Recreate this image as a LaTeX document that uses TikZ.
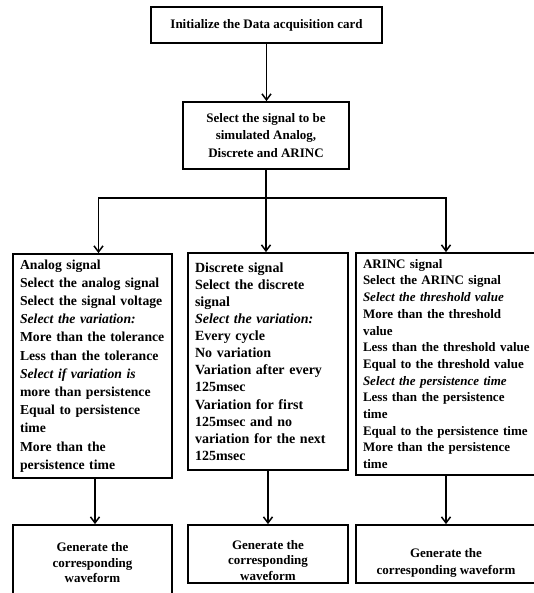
\documentclass[tikz,border=0pt]{standalone}
\usepackage{fontspec}
\setmainfont{Liberation Serif}
\usetikzlibrary{arrows.meta}

\newcommand{\drop}[1]{\rule{0pt}{#1}}

\begin{document}
\begin{tikzpicture}[x=1pt, y=-1pt,
        box/.style={draw, line width=1.8pt, inner sep=0pt, font=\fontsize{13}{17.3}\selectfont\bfseries},
        listbox/.style={box, align=left, inner xsep=7pt, inner ysep=3pt, text width=#1},
        genbox/.style={box, align=center, font=\fontsize{13}{15.5}\selectfont\bfseries},
        flow/.style={line width=1.8pt, -{Straight Barb[length=6pt, width=9pt, line width=1.5pt]}}]
            \useasboundingbox (0,0) rectangle (534,593);

            \node[box, minimum width=231pt, minimum height=36pt] (init) at (266.5,25) {Initialize the Data acquisition card};
            \node[box, align=center, minimum width=166pt, minimum height=67pt] (sel) at (266,135.5) {Select the signal to be\\ simulated Analog,\\ Discrete and ARINC};

            \node[listbox=145pt, minimum height=224pt, font=\fontsize{13.7}{18.2}\selectfont\bfseries] (analog) at (92.5,366) {Analog signal\\ Select the analog signal\\ Select the signal voltage\\ \textit{Select the variation:}\\ More than the tolerance\\ Less than the tolerance\\ \textit{Select if variation is}\\ more than persistence\\ Equal to persistence\\ time\\ More than the\\ persistence time};
            \node[listbox=146pt, minimum height=217pt, font=\fontsize{14}{17.1}\selectfont\bfseries] (discrete) at (268,361.5) {Discrete signal\\ Select the discrete\\ signal\\ \textit{Select the variation:}\\ Every cycle\\ No variation\\ Variation after every\\ 125msec\\ Variation for first\\ 125msec and no\\ variation for the next\\ 125msec};
            \node[listbox=176pt, minimum height=222pt, font=\fontsize{13}{16.7}\selectfont\bfseries] (arinc) at (451,364) {ARINC signal\\ Select the ARINC signal\\ \textit{Select the threshold value}\\ More than the threshold\\ value\\ Less than the threshold value\\ Equal to the threshold value\\ \textit{Select the persistence time}\\ Less than the persistence\\ time\\ Equal to the persistence time\\ More than the persistence\\ time};

            \node[genbox, minimum width=159pt, minimum height=76pt] (genA) at (92.5,563) {Generate the\\ corresponding\\ waveform};
            \node[genbox, minimum width=160pt, minimum height=58pt] (genD) at (268,554) {\drop{22pt}Generate the\\ corresponding\\ waveform};
            \node[genbox, minimum width=180pt, minimum height=58pt, font=\fontsize{13}{17}\selectfont\bfseries] (genR) at (446,554) {\drop{27pt}Generate the\\ corresponding waveform};

            \draw[flow] (init.south) -- (init.south |- sel.north);
            \draw[line width=1.8pt] (sel.south) -- ++(0,28) coordinate (fork);
            \draw[flow] (fork) -| ([xshift=6pt]analog.north);
            \draw[flow] (fork) -- (fork |- discrete.north);
            \draw[flow] (fork) -| ([xshift=-5pt]arinc.north);

            \draw[flow] ([xshift=2.5pt]analog.south) -- ([xshift=2.5pt]genA.north);
            \draw[flow] (discrete) -- (genD);
            \draw[flow] (genR.north |- arinc.south) -- (genR);
        \end{tikzpicture}
\end{document}
